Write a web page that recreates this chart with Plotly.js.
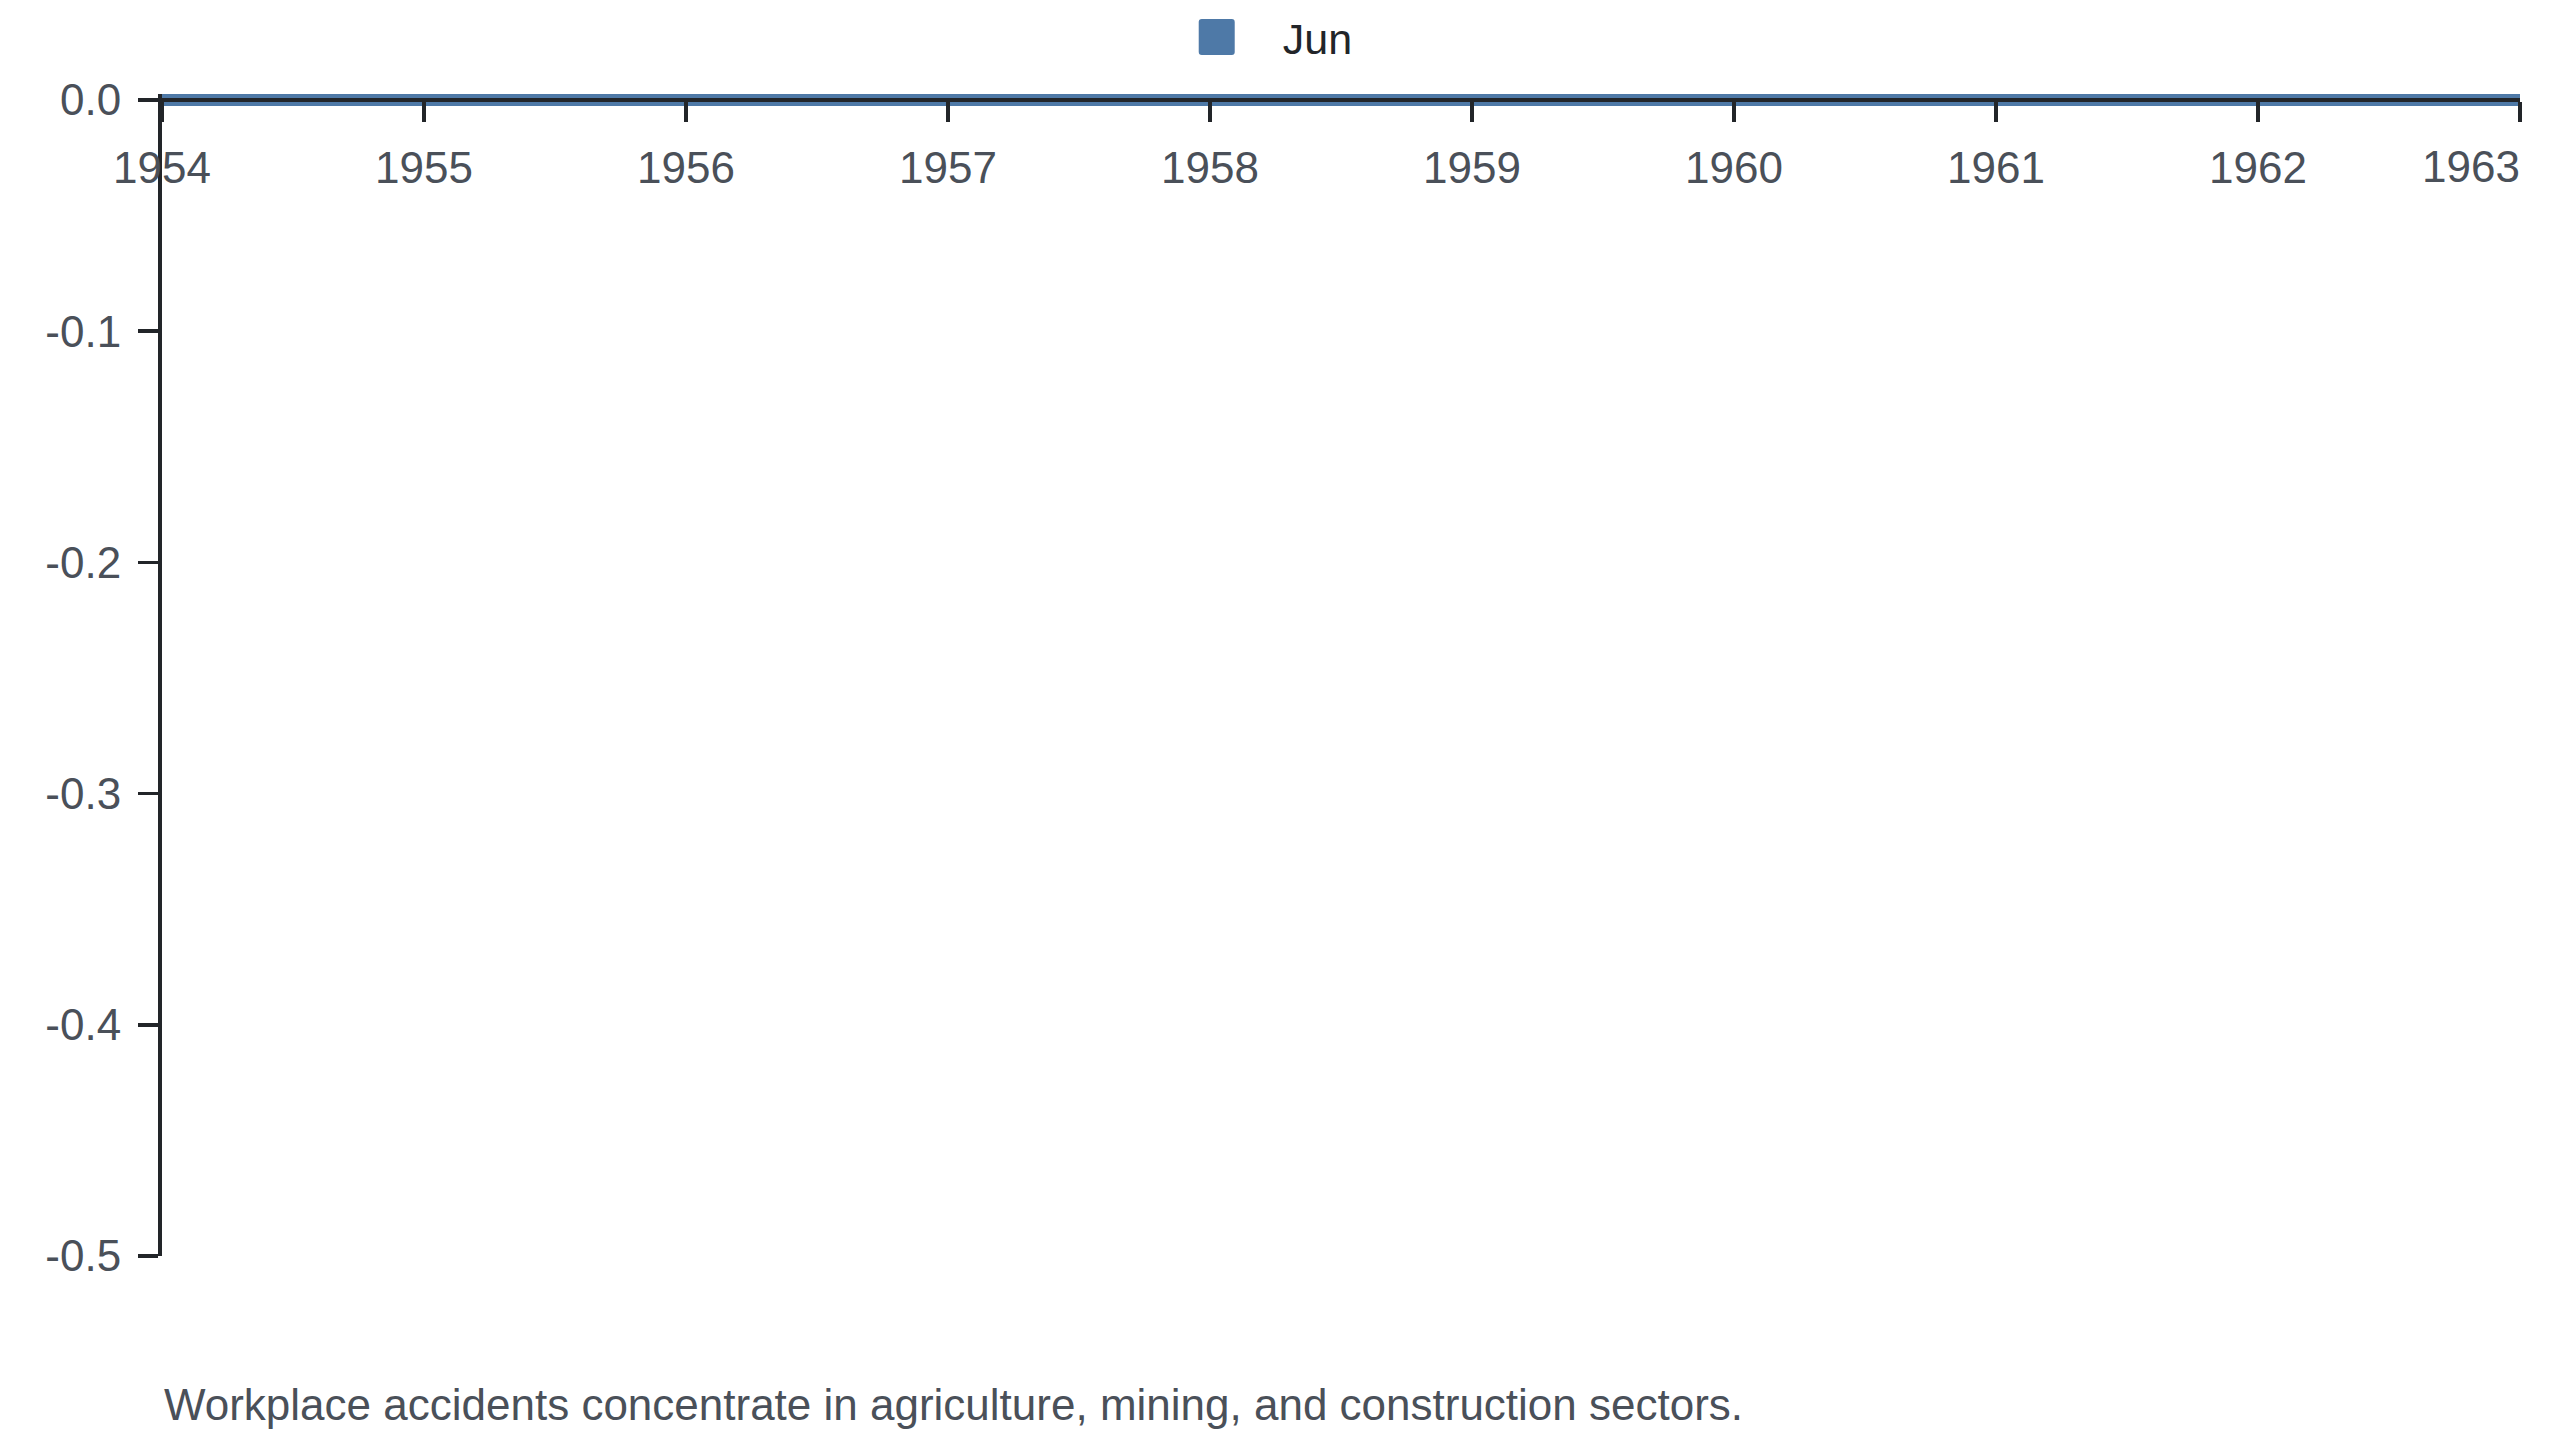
<!DOCTYPE html>
<html>
<head>
<meta charset="utf-8">
<script src="https://cdn.plot.ly/plotly-3.0.1.min.js"></script>
<style>
  html, body { margin: 0; padding: 0; background: #fff; }
  #plot { width: 2560px; height: 1440px; }
</style>
</head>
<body>
<div id="plot"></div>
<script>
// series: June values per year
const years = [1954, 1955, 1956, 1957, 1958, 1959, 1960, 1961, 1962, 1963];
const junValues = [0, 0, 0, 0, 0, 0, 0, 0, 0, 0];
const seriesName = 'Jun';

const yTickVals = [0, -0.1, -0.2, -0.3, -0.4, -0.5];
const yTickText = yTickVals.map(v => (v === 0 ? '0.0' : v.toFixed(1)));
const xTickVals = years;

const caption = 'Workplace accidents concentrate in agriculture, mining, and construction sectors.';

const BLUE = '#4e79a7';
const INK = '#222529';
const LABEL = '#4a5059';
const FONT = 'Liberation Sans, Arial, sans-serif';

const M = { l: 162, r: 40, t: 94, b: 184 };
const plotH = 1440 - M.t - M.b;

// a little headroom above zero so the thick band is not clipped
const yMin = -0.5;
const yTop = 0.0026;
const xAxisPos = (0 - yMin) / (yTop - yMin);

// the last year label sits inside the edge, so it gets its own shifted axis
const lastYear = xTickVals[xTickVals.length - 1];
const xTickText = xTickVals.map(y => (y === lastYear ? '' : String(y)));

const tickStyle = {
  ticks: 'outside',
  ticklen: 20,
  tickwidth: 3.5,
  tickcolor: INK,
  ticklabelstandoff: 8,
  showgrid: false,
  zeroline: false,
  tickfont: { family: FONT, size: 44, color: LABEL },
};

const data = [
  {
    x: years,
    y: junValues,
    type: 'scatter',
    mode: 'lines',
    name: seriesName,
    legendgroup: 'jun',
    showlegend: false,
    line: { color: BLUE, width: 12 },
    hoverinfo: 'skip',
  },
  {
    // zero-height bars: only the legend swatch shows
    x: years,
    y: junValues,
    type: 'bar',
    xaxis: 'x2',
    name: seriesName,
    legendgroup: 'jun',
    marker: { color: BLUE },
  },
];

const layout = {
  width: 2560,
  height: 1440,
  paper_bgcolor: '#ffffff',
  plot_bgcolor: '#ffffff',
  font: { family: FONT, color: LABEL, size: 44 },
  margin: { l: M.l, r: M.r, t: M.t, b: M.b, pad: 0 },
  showlegend: true,
  legend: {
    orientation: 'h',
    xref: 'container',
    yref: 'container',
    x: 0.462,
    xanchor: 'left',
    y: 1 - 37 / 1440,
    yanchor: 'middle',
    itemwidth: 90,
    font: { family: FONT, size: 43, color: INK },
    bgcolor: 'rgba(0,0,0,0)',
  },
  xaxis: Object.assign({
    range: [1954, 1963],
    anchor: 'free',
    position: xAxisPos,
    side: 'bottom',
    tickvals: xTickVals,
    ticktext: xTickText,
    showline: true,
    linewidth: 4,
    linecolor: INK,
  }, tickStyle),
  xaxis2: Object.assign({}, tickStyle, {
    range: [1954, 1963],
    overlaying: 'x',
    anchor: 'free',
    position: xAxisPos,
    side: 'bottom',
    tickvals: [lastYear],
    ticktext: [String(lastYear)],
    tickcolor: 'rgba(0,0,0,0)',
    ticklabelshift: -49,
    showline: false,
  }),
  yaxis: Object.assign({
    range: [yMin, yTop],
    tickvals: yTickVals,
    ticktext: yTickText,
    showline: true,
    linewidth: 4,
    linecolor: INK,
  }, tickStyle),
  annotations: [
    {
      text: caption,
      xref: 'paper',
      yref: 'paper',
      x: 0,
      y: -(1404 - (1440 - M.b)) / plotH,
      xanchor: 'left',
      yanchor: 'middle',
      showarrow: false,
      font: { family: FONT, size: 44, color: LABEL },
    },
  ],
};

// bigger rounded legend swatch than plotly's fixed 12px square
function roundedSquare(cx, cy, s, r) {
  const x0 = cx - s / 2, y0 = cy - s / 2;
  return `M${x0 + r},${y0}H${x0 + s - r}Q${x0 + s},${y0} ${x0 + s},${y0 + r}` +
    `V${y0 + s - r}Q${x0 + s},${y0 + s} ${x0 + s - r},${y0 + s}` +
    `H${x0 + r}Q${x0},${y0 + s} ${x0},${y0 + s - r}` +
    `V${y0 + r}Q${x0},${y0} ${x0 + r},${y0}Z`;
}

Plotly.newPlot('plot', data, layout, { displayModeBar: false, staticPlot: true }).then(gd => {
  gd.querySelectorAll('.legend .legendpoints path').forEach(p => {
    p.setAttribute('d', roundedSquare(-16, 0, 36, 3));
    p.style.strokeWidth = '0px';
  });
});
</script>
</body>
</html>
